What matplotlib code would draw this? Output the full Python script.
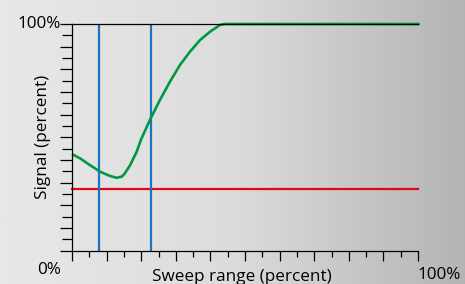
import numpy as np
import matplotlib
matplotlib.use("Agg")
import matplotlib.pyplot as plt
from matplotlib import font_manager as fm
from matplotlib.colors import LinearSegmentedColormap

# ---- data ----
sweep_pct = [0, 2.3, 5.2, 8.1, 11.0, 12.9, 14.4, 15.3, 16.8, 18.7, 19.9, 22.5, 25.4,
             28.3, 31.2, 34.1, 37.0, 39.9, 42.8, 44.2, 100.5]
signal_pct = [42.6, 40.7, 37.7, 34.8, 32.9, 32.1, 32.6, 34.1, 37.7, 43.6, 48.8, 57.6, 66.4,
              74.5, 81.9, 87.8, 92.9, 96.6, 99.6, 100, 100]
markers_x = [7.8, 22.7]
threshold = 27.2
x_label = "Sweep range (percent)"
y_label = "Signal (percent)"

avail = {f.name for f in fm.fontManager.ttflist}
font = "DejaVu Sans"
for cand in ["Liberation Sans Narrow", "Open Sans", "Noto Sans"]:
    if cand in avail:
        font = cand
        break
plt.rcParams['font.family'] = [font, 'DejaVu Sans']

W, H = 465, 284
fig = plt.figure(figsize=(W / 100, H / 100), dpi=100)

# background gradient
bg = fig.add_axes([0, 0, 1, 1])
cmap = LinearSegmentedColormap.from_list("g", ["#e8e8e8", "#dcdcdc", "#b4b4b4"])
grad = np.linspace(0, 1, 256).reshape(1, -1)
bg.imshow(grad, aspect="auto", cmap=cmap, extent=[0, 1, 0, 1])
bg.set_axis_off()

L, R = 72 / W, 418 / W
B, T = (H - 250.5) / H, (H - 24) / H
ax = fig.add_axes([L, B, R - L, T - B])
ax.patch.set_alpha(0)
ax.set_xlim(0, 100)
ax.set_ylim(0, 100)

ax.spines["right"].set_visible(False)
for s in ["left", "bottom", "top"]:
    ax.spines[s].set_color("black")
    ax.spines[s].set_linewidth(0.9)

ax.set_xticks(np.arange(0, 101, 10))
ax.set_xticks(np.arange(5, 100, 10), minor=True)
ax.set_yticks(np.arange(0, 101, 10))
ax.set_yticks(np.arange(5, 100, 10), minor=True)
ax.tick_params(axis="x", which="major", direction="out", length=7, width=0.9, labelbottom=False)
ax.tick_params(axis="x", which="minor", direction="out", length=4, width=0.9)
ax.tick_params(axis="y", which="major", direction="out", length=9, width=0.9, labelleft=False)
ax.tick_params(axis="y", which="minor", direction="out", length=7, width=0.9)

ax.axhline(threshold, color="#e30613", lw=1.6, clip_on=False)
for mx in markers_x:
    ax.axvline(mx, color="#1a73c4", lw=1.6)
ax.plot(sweep_pct, signal_pct, color="#009845", lw=1.9, clip_on=False,
        solid_capstyle="butt", solid_joinstyle="round")

fs = 12.3
ax.text(-0.033, 1.0, "100%", transform=ax.transAxes, ha="right", va="center", fontsize=fs)
ax.text(-0.033, -0.085, "0%", transform=ax.transAxes, ha="right", va="center", fontsize=fs)
ax.text(1.062, -0.11, "100%", transform=ax.transAxes, ha="center", va="center", fontsize=fs)
ax.text(0.49, -0.115, x_label, transform=ax.transAxes, ha="center", va="center", fontsize=fs)
ax.text(-0.083, 0.5, y_label, transform=ax.transAxes, ha="center", va="center", rotation=90, fontsize=fs)

fig.savefig("out.png", dpi=100)
